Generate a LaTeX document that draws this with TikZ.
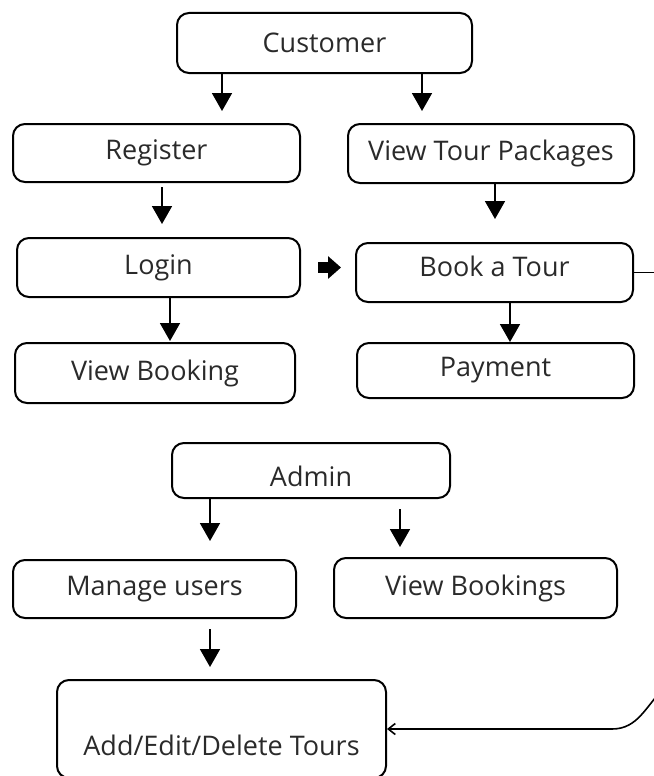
\documentclass[tikz,border=0pt]{standalone}
\usepackage{fontspec}
\setmainfont{Open Sans}
\usetikzlibrary{arrows.meta}
\definecolor{txt}{HTML}{2A2A2A}
\tikzset{
  box/.style={draw=black, line width=2pt, rounded corners=12pt, inner sep=0pt,
    font=\fontsize{27}{30}\selectfont, text=txt},
  lbl/.style={inner sep=0pt, font=\fontsize{27}{30}\selectfont, text=txt},
  arr/.style={line width=1.8pt, -{Triangle[width=20pt,length=18pt]}},
  blockarr/.style={line width=11pt, -{Triangle[width=22pt,length=13pt]}},
  thin/.style={line width=1.6pt}
}
\begin{document}
\begin{tikzpicture}[x=1pt,y=-1pt]
\useasboundingbox (0,0) rectangle (653,776);
\node[box, minimum width=295pt, minimum height=60pt] (cust) at (324.5,43) {Customer};
\node[box, minimum width=287pt, minimum height=58pt] (reg) at (156.5,153) {Register};
\node[box, minimum width=286pt, minimum height=59pt] (vtp) at (491,153.5) {View Tour Packages};
\node[box, minimum width=283pt, minimum height=59pt] (login) at (158.5,267.5) {Login};
\node[box, minimum width=277pt, minimum height=59pt] (book) at (494.5,272.5) {};
\node[lbl] (booktxt) at ([yshift=6pt]book.center) {Book a Tour};
\node[box, minimum width=280pt, minimum height=60pt] (vbk) at (155,373) {View Booking};
\node[box, minimum width=277pt, minimum height=55pt] (pay) at (495.5,370.5) {Payment};
\node[box, minimum width=278pt, minimum height=55pt] (admin) at (311,470.5) {};
\node[lbl] (admintxt) at ([yshift=-6pt]admin.center) {Admin};
\node[box, minimum width=283pt, minimum height=58pt] (manage) at (154.5,589) {Manage users};
\node[box, minimum width=283pt, minimum height=60pt] (vbs) at (475.5,588) {View Bookings};
\node[box, minimum width=329pt, minimum height=98pt] (add) at (221.5,729) {};
\node[lbl] (addtxt) at ([yshift=-16pt]add.center) {Add/Edit/Delete Tours};

\draw[arr, shorten >=12pt] (cust.south -| 222,0) -- (reg.north -| 222,0);
\draw[arr, shorten >=12pt] (cust.south -| 422,0) -- (vtp.north -| 422,0);
\draw[arr, shorten <=4pt, shorten >=13pt] (reg.south -| 162,0) -- (login.north -| 162,0);
\draw[arr, shorten >=23pt] (vtp.south -| 495,0) -- (book.north -| 495,0);
\draw[arr, shorten >=1pt] (login.south -| 170,0) -- (vbk.north -| 170,0);
\draw[arr] (book.south -| 510,0) -- (pay.north -| 510,0);
\draw[blockarr, shorten <=17pt, shorten >=14pt] (login.east) -- (book.west |- login.east);
\draw[arr, shorten >=18pt] (admin.south -| 210,0) -- (manage.north -| 210,0);
\draw[arr, shorten <=10pt, shorten >=10pt] (admin.south -| 400,0) -- (vbs.north -| 400,0);
\draw[arr, shorten <=10pt, shorten >=12pt] (manage.south -| 210,0) -- (add.north -| 210,0);

\coordinate (rt) at (662,272.5);
\coordinate (rb) at (664,688);
\coordinate (rc) at (612,729);
\draw[thin] (book.east) -- (rt);
\draw[thin, -{Straight Barb[length=7pt,width=11pt]}] (rb) to[out=225,in=0] (rc) -- (add.east |- rc);
\end{tikzpicture}
\end{document}
